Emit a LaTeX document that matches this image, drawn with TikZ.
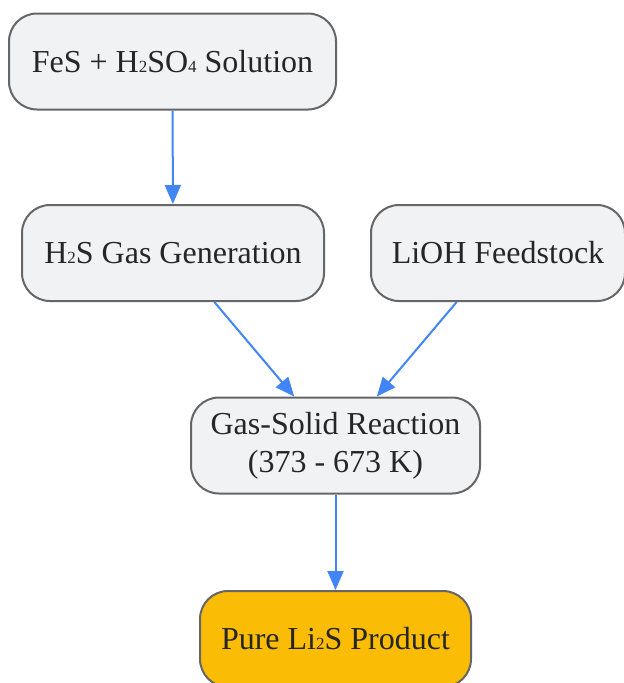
\documentclass[tikz,border=0pt]{standalone}
\usepackage{fontspec}
\setmainfont{Liberation Serif}
\usetikzlibrary{arrows.meta}
\definecolor{boxfill}{HTML}{F1F2F4}
\definecolor{boxline}{HTML}{666666}
\definecolor{prodfill}{HTML}{FBBC05}
\definecolor{arrowblue}{HTML}{4285F4}
\definecolor{txt}{HTML}{262626}
\newcommand{\smalldig}[1]{{\fontsize{17}{17}\selectfont #1}}
\begin{document}
\begin{tikzpicture}[x=1pt,y=1pt,
  procbox/.style={draw=boxline, line width=2pt, fill=boxfill, rounded corners=28pt,
    minimum height=96pt, inner sep=0pt, align=center, text=txt,
    font=\fontsize{32}{38}\selectfont},
  prodbox/.style={procbox, fill=prodfill},
  flow/.style={draw=arrowblue, line width=2pt, -{Triangle[length=19pt,width=16pt]}}]
\useasboundingbox (0,0) rectangle (624,-683);
\node[procbox, minimum width=327pt] (fes) at (172.5,-61.5) {FeS + H\smalldig{2}SO\smalldig{4} Solution};
\node[procbox, minimum width=302pt] (h2s) at (173,-253) {H\smalldig{2}S Gas Generation};
\node[procbox, minimum width=254pt] (lioh) at (498,-253) {LiOH Feedstock};
\node[procbox, minimum width=289pt] (gs) at (335.5,-445.5) {Gas-Solid Reaction\\(373 - 673 K)};
\node[prodbox, minimum width=271pt] (prod) at (335.5,-639) {Pure Li\smalldig{2}S Product};
\draw[flow] (fes) -- (h2s);
\draw[flow] (h2s) -- (gs);
\draw[flow] (lioh) -- (gs);
\draw[flow] (gs) -- (prod);
\end{tikzpicture}
\end{document}
